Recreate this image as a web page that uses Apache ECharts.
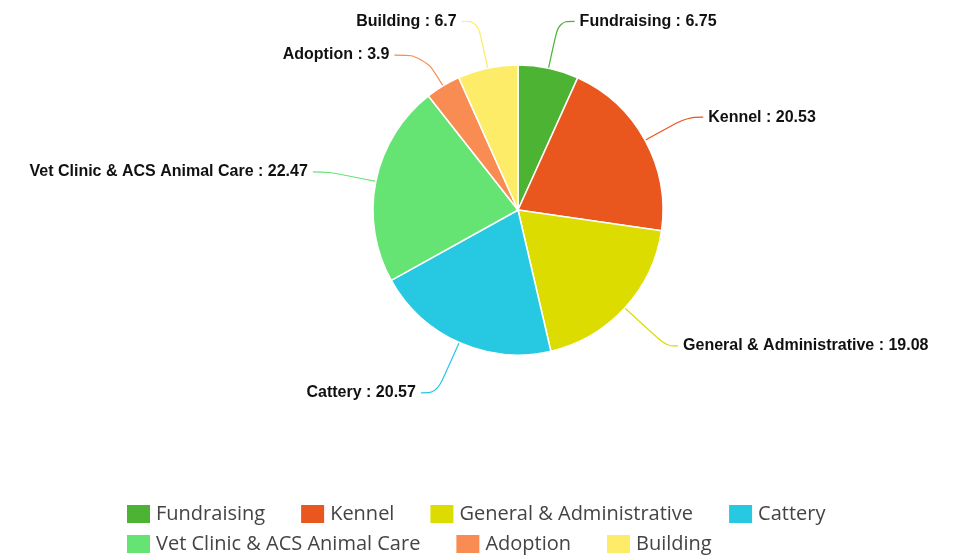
<!DOCTYPE html>
<html>
<head>
<meta charset="utf-8">
<script src="https://cdn.jsdelivr.net/npm/echarts@6/dist/echarts.min.js"></script>
<style>
  html, body { margin: 0; padding: 0; background: #fff; }
  #main { width: 955px; height: 556px; }
</style>
</head>
<body>
<div id="main"></div>
<script>
// categories and values
var names = ['Fundraising', 'Kennel', 'General & Administrative', 'Cattery', 'Vet Clinic & ACS Animal Care', 'Adoption', 'Building'];
var values = [6.75, 20.53, 19.08, 20.57, 22.47, 3.9, 6.7];
var colors = ['#4db332', '#e9561e', '#dcdc00', '#27c8e2', '#65e473', '#f98c52', '#fdec68'];
// legend rows
var legendRow1 = names.slice(0, 4);
var legendRow2 = names.slice(4);

// a few label lines are drawn longer in the original
var lineTweaks = {
    'General & Administrative': { length: 56, length2: 12 },
    'Cattery': { length: 55, length2: 16 },
    'Adoption': { length: 36, length2: 30 }
};

var myChart = echarts.init(document.getElementById('main'));

var pieData = [];
for (var i = 0; i < names.length; i++) {
    var item = { name: names[i], value: values[i] };
    if (lineTweaks[names[i]]) {
        item.labelLine = lineTweaks[names[i]];
    }
    pieData.push(item);
}

function legendRow(data, top) {
    return {
        data: data,
        top: top,
        left: 125,
        padding: 0,
        itemWidth: 25,
        itemHeight: 20,
        itemGap: 34,
        itemTextGap: 9,
        icon: 'rect',
        selectedMode: false,
        textStyle: {
            fontFamily: 'Open Sans',
            fontSize: 20,
            lineHeight: 20,
            color: '#444'
        }
    };
}

var option = {
    color: colors,
    animation: false,
    legend: [legendRow(legendRow1, 503), legendRow(legendRow2, 533)],
    series: [{
        type: 'pie',
        center: [518, 210],
        radius: 145,
        startAngle: 90,
        clockwise: true,
        data: pieData,
        itemStyle: {
            borderColor: '#fff',
            borderWidth: 1.5
        },
        label: {
            formatter: '{b} : {c}',
            fontFamily: 'Liberation Sans',
            fontWeight: 'bold',
            fontSize: 16,
            color: '#111'
        },
        labelLine: {
            show: true,
            length: 48,
            length2: 16,
            smooth: 0.4,
            lineStyle: { width: 1.2 }
        }
    }]
};
myChart.setOption(option);
</script>
</body>
</html>
